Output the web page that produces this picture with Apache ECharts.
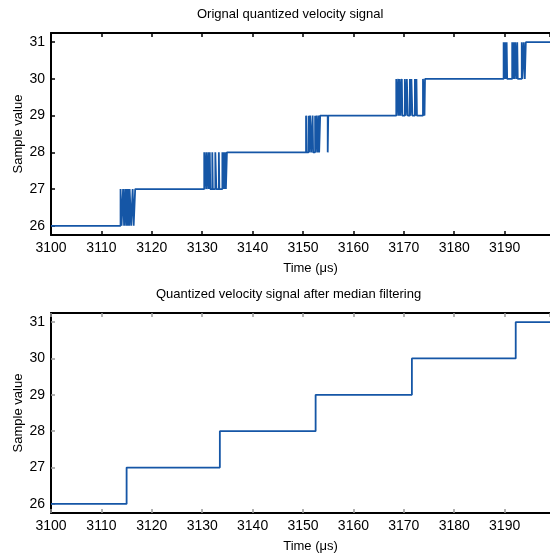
<!DOCTYPE html>
<html>
<head>
<meta charset="utf-8">
<script src="https://cdn.jsdelivr.net/npm/echarts@6/dist/echarts.min.js"></script>
<style>
  html, body { margin: 0; padding: 0; background: #fff; }
  #main { width: 550px; height: 554px; }
</style>
</head>
<body>
<div id="main"></div>
<script>
// raw quantized signal: value holds from each time until the next one
const rawTime = [
  3100,
  3113.8, 3114.0, 3114.3, 3114.5, 3114.7, 3114.9, 3115.0, 3115.2, 3115.3, 3115.5, 3115.6, 3115.9, 3116.2, 3116.4, 3116.7,
  3130.4, 3130.5, 3130.8, 3130.9, 3131.2, 3131.3, 3131.5, 3131.6, 3132.0, 3132.1, 3132.6, 3132.8, 3133.3, 3133.4, 3134.0, 3134.1, 3134.3, 3134.4, 3134.6, 3134.7, 3134.9,
  3150.6, 3150.7, 3151.1, 3151.2, 3151.4, 3151.6, 3151.9, 3152.0, 3152.4, 3152.5, 3152.7, 3152.9, 3153.1, 3153.2, 3153.4, 3154.9, 3155.0,
  3168.5, 3168.6, 3168.9, 3169.0, 3169.2, 3169.3, 3169.6, 3169.7, 3170.2, 3170.4, 3170.6, 3170.8, 3171.2, 3171.3, 3171.5, 3171.7, 3172.2, 3172.3, 3172.5, 3172.6, 3173.8, 3174.1, 3174.2,
  3189.8, 3189.9, 3190.1, 3190.2, 3190.4, 3190.5, 3191.5, 3191.6, 3191.8, 3191.9, 3192.1, 3192.3, 3192.5, 3192.6, 3193.4, 3193.5, 3193.8, 3194.0, 3194.2,
  3200
];
const rawValue = [
  26,
  27, 26, 27, 26, 27, 26, 27, 26, 27, 26, 27, 26, 27, 26, 27,
  28, 27, 28, 27, 28, 27, 28, 27, 28, 27, 28, 27, 28, 27, 28, 27, 28, 27, 28, 27, 28,
  29, 28, 29, 28, 29, 28, 29, 28, 29, 28, 29, 28, 29, 28, 29, 28, 29,
  30, 29, 30, 29, 30, 29, 30, 29, 30, 29, 30, 29, 30, 29, 30, 29, 30, 29, 30, 29, 30, 29, 30,
  31, 30, 31, 30, 31, 30, 31, 30, 31, 30, 31, 30, 31, 30, 31, 30, 31, 30, 31,
  31
];

// median filtered signal
const filtTime = [3100, 3115.0, 3133.5, 3152.5, 3171.6, 3192.2, 3200];
const filtValue = [26, 27, 28, 29, 30, 31, 31];

const yTicks = [26, 27, 28, 29, 30, 31];
const xMin = 3100, xMax = 3199, xStep = 10;
const yMin = 25.75, yMax = 31.25;

const lineColor = '#1556a6';
const font = 'Liberation Sans, Arial, Helvetica, sans-serif';

const zip = (a, b) => a.map((v, i) => [v, b[i]]);

let myChart = echarts.init(document.getElementById('main'));

const grids = [
  { left: 51, right: 0, top: 33, height: 202 },
  { left: 51, right: 0, top: 313, height: 200 }
];

function xAxes(gi, tickColor) {
  return [
    {
      gridIndex: gi, type: 'value', min: xMin, max: xMax, interval: xStep,
      name: 'Time (μs)', nameLocation: 'middle', nameGap: 27,
      nameTextStyle: { color: '#000', fontSize: 13, fontFamily: font, padding: [0, 0, 0, 20] },
      axisLine: { onZero: false, lineStyle: { color: '#000', width: 2 } },
      axisTick: { inside: true, length: 4, lineStyle: { color: tickColor, width: 1.5 } },
      axisLabel: { color: '#000', fontSize: 14, fontFamily: font, margin: 6, showMaxLabel: false,
        formatter: v => String(v) },
      splitLine: { show: false }
    },
    {
      gridIndex: gi, type: 'value', position: 'top', min: xMin, max: xMax, interval: xStep,
      axisLine: { onZero: false, lineStyle: { color: '#000', width: 2 } },
      axisTick: { inside: true, length: 4, lineStyle: { color: tickColor, width: 1.5 } },
      axisLabel: { show: false },
      splitLine: { show: false }
    }
  ];
}

function yAxis(gi, tickColor) {
  return {
    gridIndex: gi, type: 'value', min: yMin, max: yMax,
    axisLine: { onZero: false, lineStyle: { color: '#000', width: 2 } },
    axisTick: { inside: true, length: 4, customValues: yTicks, lineStyle: { color: tickColor, width: 1.5 } },
    axisLabel: { color: '#000', fontSize: 14, fontFamily: font, margin: 6, customValues: yTicks },
    splitLine: { show: false }
  };
}

function yName(cy) {
  return {
    type: 'text', x: 18, y: cy, rotation: Math.PI / 2,
    style: { text: 'Sample value', fill: '#000', font: '13px ' + font, align: 'center', verticalAlign: 'middle' }
  };
}

let option = {
  animation: false,
  backgroundColor: '#fff',
  graphic: [
    { type: 'text', left: 290 - 93, top: 8,
      style: { text: 'Orignal quantized velocity signal', fill: '#000', font: '13px ' + font } },
    { type: 'text', left: 298 - 142, top: 288,
      style: { text: 'Quantized velocity signal after median filtering', fill: '#000', font: '13px ' + font } },
    yName(134),
    yName(413)
  ],
  grid: grids,
  xAxis: [...xAxes(0, '#000'), ...xAxes(1, '#999')],
  yAxis: [yAxis(0, '#000'), yAxis(1, '#999')],
  series: [
    {
      type: 'line', xAxisIndex: 0, yAxisIndex: 0, step: 'end', showSymbol: false,
      lineStyle: { color: lineColor, width: 1.8 },
      data: zip(rawTime, rawValue)
    },
    {
      type: 'line', xAxisIndex: 2, yAxisIndex: 1, step: 'end', showSymbol: false,
      lineStyle: { color: lineColor, width: 1.8 },
      data: zip(filtTime, filtValue)
    }
  ]
};
myChart.setOption(option);
</script>
</body>
</html>
